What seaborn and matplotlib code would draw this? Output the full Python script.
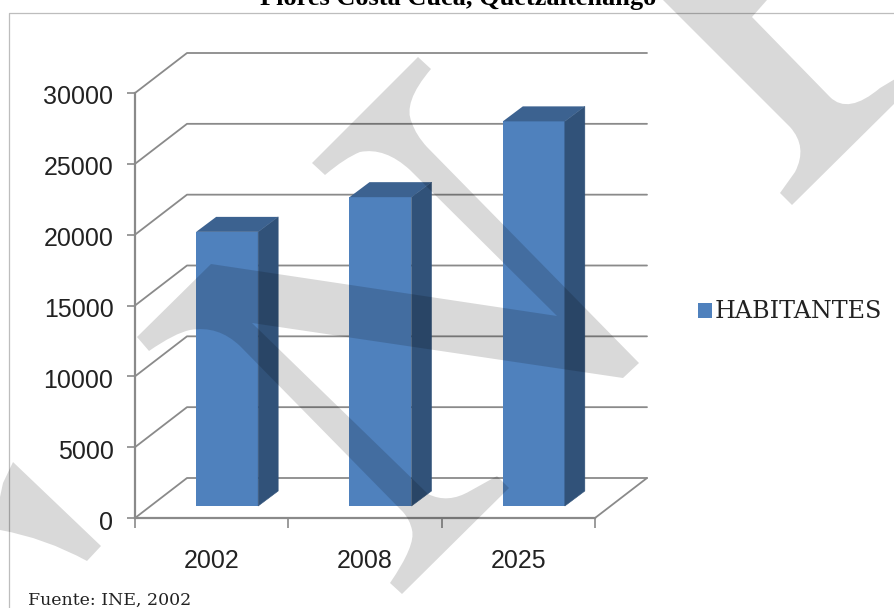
import matplotlib
matplotlib.use('Agg')
import matplotlib.pyplot as plt
import seaborn as sns
from matplotlib.lines import Line2D
from matplotlib.patches import PathPatch, Polygon
from matplotlib.path import Path
from matplotlib.transforms import Affine2D

years = ['2002', '2008', '2025']
habitantes = [19350, 21800, 27150]
y_ticks = [0, 5000, 10000, 15000, 20000, 25000, 30000]
title = 'Flores Costa Cuca, Quetzaltenango'
source = 'Fuente: INE, 2002'

W, H = 895, 608
BLUE = '#4f81bd'
GRID = '#8a8a8a'


def mark_path(points):
    # image pixels to figure fractions, a 3 item point is the control of a curve
    verts, codes = [], []
    after_ctrl = False
    for pt in points:
        verts.append((pt[0] / W, 1 - pt[1] / H))
        if not codes:
            codes.append(Path.MOVETO)
        elif len(pt) == 3 or after_ctrl:
            codes.append(Path.CURVE3)
        else:
            codes.append(Path.LINETO)
        after_ctrl = len(pt) == 3
    verts.append(verts[0])
    codes.append(Path.CLOSEPOLY)
    return Path(verts, codes)


sns.set_theme(style='white')
fig = plt.figure(figsize=(W / 100, H / 100), dpi=100, facecolor='white')
ax = fig.add_axes([135 / W, 1 - 518 / H, 460 / W, 425 / H])

# depth of the fake 3d box, in data units
box_dx = 52 / (460 / 3)
box_dy = 40 / (425 / 30000)
bar_off_x = 15.5 / (460 / 3)
bar_off_y = 12 / (425 / 30000)
bar_dx = 20 / (460 / 3)
bar_dy = 15 / (425 / 30000)
bar_w = 62 / (460 / 3)

sns.barplot(x=years, y=habitantes, ax=ax, color=BLUE, saturation=1, width=bar_w,
            label='HABITANTES', zorder=3)
ax.set_xlim(-0.5, 2.5)
ax.set_ylim(0, 30000)
ax.patch.set_alpha(0)

shift = Affine2D().translate(bar_off_x, bar_off_y) + ax.transData
for p in list(ax.patches):
    p.set_transform(shift)
    p.set_linewidth(0)
    x0, x1, top = p.get_x(), p.get_x() + p.get_width(), p.get_height()
    ax.add_patch(Polygon([(x1, 0), (x1 + bar_dx, bar_dy), (x1 + bar_dx, top + bar_dy), (x1, top)],
                         closed=True, fc='#315279', ec='#315279', lw=0.4, transform=shift, zorder=3, clip_on=False))
    ax.add_patch(Polygon([(x0, top), (x0 + bar_dx, top + bar_dy), (x1 + bar_dx, top + bar_dy), (x1, top)],
                         closed=True, fc='#3c6290', lw=0, transform=shift, zorder=3, clip_on=False))

# back wall lines
for v in y_ticks:
    ax.plot([-0.5, -0.5 + box_dx, 2.5 + box_dx], [v, v + box_dy, v + box_dy],
            color=GRID, lw=1.3, zorder=1, clip_on=False)
ax.plot([2.5, 2.5 + box_dx], [0, box_dy], color=GRID, lw=1.3, zorder=1, clip_on=False)

sns.despine(ax=ax)
for s in ['left', 'bottom']:
    ax.spines[s].set_color(GRID)
    ax.spines[s].set_linewidth(1.6)

ax.set_yticks(y_ticks)
ax.set_yticklabels([str(v) for v in y_ticks], family='Liberation Sans', fontsize=18, color='#222222')
ax.tick_params(axis='y', left=True, length=5.5, width=1.2, color=GRID, pad=10)
for lab in ax.get_yticklabels():
    lab.set_transform(lab.get_transform() + Affine2D().translate(0, -2))
ax.set_xticks([-0.5, 0.5, 1.5, 2.5], minor=True)
ax.tick_params(axis='x', which='minor', bottom=True, length=7, width=1.2, color=GRID)
ax.set_xticks([0, 1, 2])
ax.set_xticklabels(years, family='Liberation Sans', fontsize=18, color='#222222')
ax.tick_params(axis='x', which='major', bottom=False, length=0, pad=22.5)

ax.legend(loc='center left', bbox_to_anchor=(698 / W, 1 - 312 / H), bbox_transform=fig.transFigure,
          frameon=False, prop={'family': 'DejaVu Serif', 'size': 17.2}, labelcolor='#222222',
          handlelength=0.585, handleheight=0.585, handletextpad=0.12, borderpad=0, borderaxespad=0)

# page frame
fig.add_artist(Line2D([9.5 / W, 9.5 / W, 1], [0, 1 - 12.5 / H, 1 - 12.5 / H], color='#bdbdbd', lw=0.9))

fig.text(458 / W, 1 - 5 / H, title, family='Liberation Serif', weight='bold', fontsize=19,
         ha='center', va='baseline', color='black')
fig.text(28 / W, 1 - 605 / H, source, family='DejaVu Serif', fontsize=12.5, ha='left', va='baseline',
         color='#222222')

# watermark
mark_a = [(418, 57), (431, 69), (402, 103, 'c'), (412, 123), (416, 135, 'c'), (427, 147), (639, 363), (623, 378),
          (252, 323), (428, 494), (448, 504, 'c'), (470, 491), (497, 476), (509, 488), (402, 594), (390, 583),
          (416, 545, 'c'), (412, 530), (410, 520, 'c'), (403, 512), (240, 346), (218, 325, 'c'), (190, 330),
          (175, 333, 'c'), (149, 351), (137, 337), (211, 264), (557, 316), (410, 170), (385, 147, 'c'),
          (360, 152), (345, 158, 'c'), (325, 175), (312, 163)]
mark_b = [(663, 0), (790, 127), (808, 147, 'c'), (795, 172), (780, 193), (792, 205), (895, 103),
          (895, 79), (880, 88), (848, 115, 'c'), (830, 97), (752, 17), (767, 0)]
mark_c = [(13, 462), (101, 546), (87, 561), (45, 538, 'c'), (0, 530), (0, 497), (3, 483)]
for m in [mark_a, mark_b, mark_c]:
    patch = PathPatch(mark_path(m), fc='black', alpha=0.15, lw=0, zorder=10, transform=fig.transFigure)
    fig.add_artist(patch)

fig.savefig('out.png', dpi=100)
